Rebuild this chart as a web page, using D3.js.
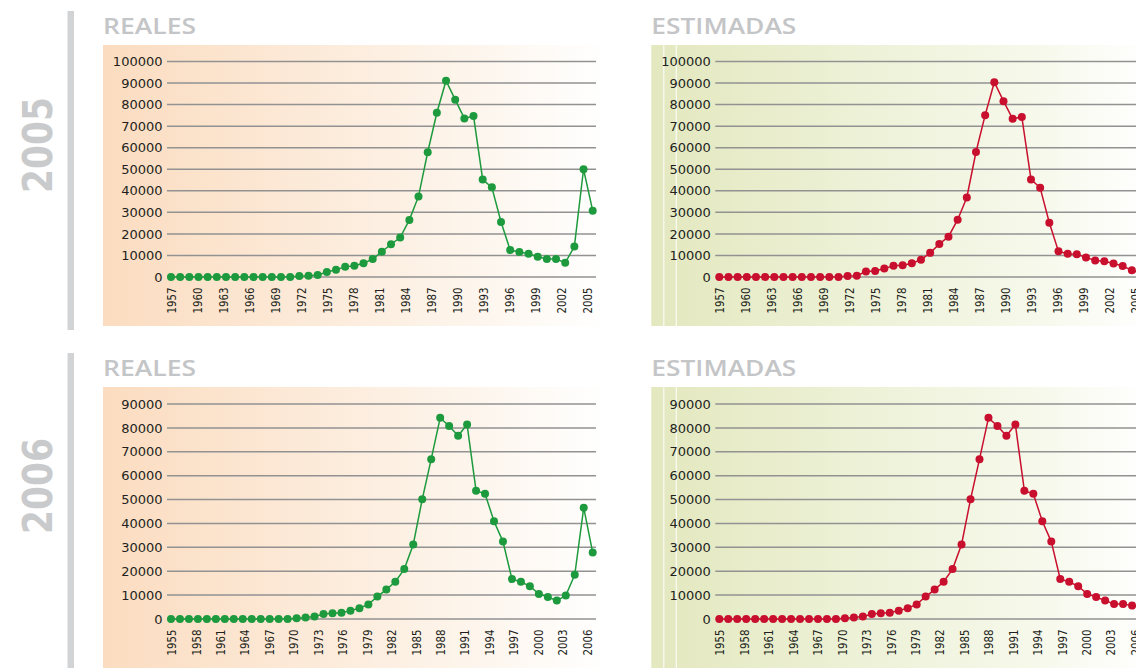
<!DOCTYPE html>
<html>
<head>
<meta charset="utf-8">
<script src="https://cdn.jsdelivr.net/npm/d3@7"></script>
<style>
  body { margin: 0; background: #fff; }
  svg { display: block; }
</style>
</head>
<body>
<div id="chart"></div>
<script>
// tick labels
var labels2005 = ["1957", "1960", "1963", "1966", "1969", "1972", "1975", "1978", "1981",
    "1984", "1987", "1990", "1993", "1996", "1999", "2002", "2005"];
var labels2006 = ["1955", "1958", "1961", "1964", "1967", "1970", "1973", "1976", "1979",
    "1982", "1985", "1988", "1991", "1994", "1997", "2000", "2003", "2006"];

var yTicks2005 = [0, 10000, 20000, 30000, 40000, 50000, 60000, 70000, 80000, 90000, 100000];
var yTicks2006 = [0, 10000, 20000, 30000, 40000, 50000, 60000, 70000, 80000, 90000];

// series values
var reales2005 = [0, 0, 0, 0, 0, 0, 0, 0, 0, 0, 0, 0, 0, 0,
    500, 600, 900, 2300, 3400, 4700, 5200, 6400, 8300, 11700, 15200, 18300,
    26500, 37400, 57900, 76200, 91100, 82300, 73600, 74700, 45200, 41600, 25500,
    12500, 11600, 10800, 9400, 8400, 8400, 6600, 14100, 50000, 30800];

var estimadas2005 = [0, 0, 0, 0, 0, 0, 0, 0, 0, 0, 0, 0, 0, 0,
    500, 600, 2500, 2800, 3900, 5200, 5400, 6400, 8000, 11200, 15300, 18700,
    26600, 36900, 58000, 75100, 90400, 81600, 73400, 74300, 45300, 41400, 25200,
    11900, 10800, 10500, 9100, 7700, 7300, 6300, 5100, 3100, 1700];

var reales2006 = [0, 0, 0, 0, 0, 0, 0, 0, 0, 0, 0, 0, 0, 0,
    300, 600, 1000, 2100, 2400, 2600, 3500, 4500, 6100, 9400, 12300, 15600,
    20900, 31200, 50100, 66900, 84200, 80800, 76700, 81400, 53700, 52400, 40900,
    32400, 16700, 15600, 13700, 10500, 9200, 7700, 9800, 18500, 46600, 27800];

var estimadas2006 = [0, 0, 0, 0, 0, 0, 0, 0, 0, 0, 0, 0, 0, 0,
    300, 600, 1000, 2100, 2400, 2600, 3500, 4500, 6100, 9400, 12300, 15600,
    20900, 31200, 50100, 66900, 84200, 80800, 76700, 81400, 53700, 52400, 40900,
    32400, 16700, 15600, 13700, 10500, 9200, 7700, 6300, 6300, 5600, 4800];

var width = 1136;
var height = 668;

var svg = d3.select("#chart")
    .append("svg")
    .attr("width", width)
    .attr("height", height);

var defs = svg.append("defs");

function gradient(id, stops) {
    var g = defs.append("linearGradient")
        .attr("id", id)
        .attr("x1", "0%").attr("x2", "100%")
        .attr("y1", "0%").attr("y2", "0%");
    stops.forEach(function (s) {
        g.append("stop").attr("offset", s[0]).attr("stop-color", s[1]);
    });
}
gradient("peach", [["0%", "#fbdcc0"], ["35%", "#fce8d5"], ["70%", "#fdf4ea"], ["100%", "#ffffff"]]);
gradient("olive", [["0%", "#e3e8bf"], ["40%", "#edf1d6"], ["75%", "#f6f8ea"], ["100%", "#ffffff"]]);

var GREEN = "#1e9a3e";
var RED = "#c8102e";

// rows: year label + the two panels
var rows = [
    { year: "2005", barTop: 11, barBottom: 330, yearY: 145, titleY: 34, bgTop: 45, bgBottom: 326,
      y0: 277, y1: 61.5, max: 100000, ticks: yTicks2005, labels: labels2005,
      left: reales2005, right: estimadas2005 },
    { year: "2006", barTop: 353, barBottom: 668, yearY: 486, titleY: 376, bgTop: 387, bgBottom: 668,
      y0: 619, y1: 404, max: 90000, ticks: yTicks2006, labels: labels2006,
      left: reales2006, right: estimadas2006 }
];

var cols = [
    { dx: 0, title: "REALES", titleLen: 93, fill: "url(#peach)", color: GREEN, key: "left" },
    { dx: 548.3, title: "ESTIMADAS", titleLen: 145, fill: "url(#olive)", color: RED, key: "right" }
];

rows.forEach(function (row) {
    // grey bar and year
    svg.append("rect")
        .attr("x", 67.5).attr("y", row.barTop)
        .attr("width", 6.5).attr("height", row.barBottom - row.barTop)
        .attr("fill", "#d2d3d5");

    svg.append("text")
        .attr("transform", "translate(51.5," + row.yearY + ") rotate(-90)")
        .attr("text-anchor", "middle")
        .attr("textLength", 96)
        .attr("lengthAdjust", "spacingAndGlyphs")
        .style("font-family", "'DejaVu Sans', sans-serif")
        .style("font-weight", "bold")
        .style("font-size", "40px")
        .style("fill", "#c9cacc")
        .text(row.year);

    cols.forEach(function (col) {
        var g = svg.append("g").attr("transform", "translate(" + col.dx + ",0)");
        var values = row[col.key];

        g.append("rect")
            .attr("x", 103).attr("y", row.bgTop)
            .attr("width", 503).attr("height", row.bgBottom - row.bgTop)
            .attr("fill", col.fill);

        if (col.key == "right") {
            [12.5, 25].forEach(function (off) {
                g.append("line")
                    .attr("x1", 103 + off).attr("x2", 103 + off)
                    .attr("y1", row.bgTop).attr("y2", row.bgBottom)
                    .attr("stroke", "#ffffff").attr("stroke-width", 1.2)
                    .attr("opacity", 0.85);
            });
        }

        g.append("text")
            .attr("x", 103).attr("y", row.titleY)
            .attr("textLength", col.titleLen)
            .attr("lengthAdjust", "spacingAndGlyphs")
            .style("font-family", "'Open Sans', sans-serif")
            .style("font-weight", 600)
            .style("font-size", "22px")
            .style("fill", "#c4c5c7")
            .text(col.title);

        var y = d3.scaleLinear().domain([0, row.max]).range([row.y0, row.y1]);
        var x = d3.scaleLinear().domain([0, values.length - 1]).range([171, 592.7]);
        var xLab = d3.scalePoint().domain(row.labels).range([171.5, 587]);

        // gridlines
        g.selectAll("line.grid")
            .data(row.ticks)
            .enter()
            .append("line")
            .attr("class", "grid")
            .attr("x1", 167).attr("x2", 596)
            .attr("y1", function (d) { return y(d); })
            .attr("y2", function (d) { return y(d); })
            .attr("stroke", "#929292")
            .attr("stroke-width", 1.5);

        g.selectAll("text.ytick")
            .data(row.ticks)
            .enter()
            .append("text")
            .attr("class", "ytick")
            .attr("x", 162.5)
            .attr("y", function (d) { return y(d); })
            .attr("dy", "0.36em")
            .attr("text-anchor", "end")
            .style("font-family", "'DejaVu Sans', sans-serif")
            .style("font-size", "13px")
            .style("fill", "#231f20")
            .text(function (d) { return d; });

        g.selectAll("text.xtick")
            .data(row.labels)
            .enter()
            .append("text")
            .attr("class", "xtick")
            .attr("transform", function (d) {
                return "translate(" + xLab(d) + "," + (row.y0 + 10.5) + ") rotate(-90)";
            })
            .attr("dy", "0.37em")
            .attr("text-anchor", "end")
            .attr("textLength", 26)
            .attr("lengthAdjust", "spacingAndGlyphs")
            .style("font-family", "'DejaVu Sans', sans-serif")
            .style("font-size", "12.5px")
            .style("fill", "#231f20")
            .text(function (d) { return d; });

        var line = d3.line()
            .x(function (d, i) { return x(i); })
            .y(function (d) { return y(d); });

        g.append("path")
            .datum(values)
            .attr("d", line)
            .attr("fill", "none")
            .attr("stroke", col.color)
            .attr("stroke-width", 1.5);

        g.selectAll("circle")
            .data(values)
            .enter()
            .append("circle")
            .attr("cx", function (d, i) { return x(i); })
            .attr("cy", function (d) { return y(d); })
            .attr("r", 4)
            .attr("fill", col.color);
    });
});
</script>
</body>
</html>
